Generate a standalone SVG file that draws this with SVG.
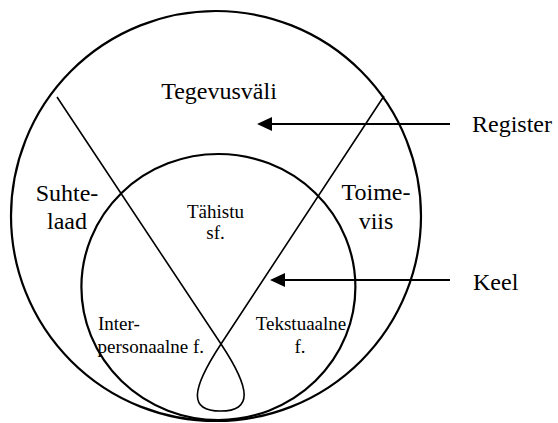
<svg xmlns="http://www.w3.org/2000/svg" width="558" height="423" viewBox="0 0 558 423">
<rect width="558" height="423" fill="#fff"/>
<g id="register-circle">
<circle cx="216" cy="216" r="205" fill="none" stroke="#000" stroke-width="2.2"/>
<text x="219" y="99" text-anchor="middle" font-family="Liberation Serif" font-size="24">Tegevusväli</text>
<text x="67" y="201" text-anchor="middle" font-family="Liberation Serif" font-size="24">Suhte-</text>
<text x="67" y="229" text-anchor="middle" font-family="Liberation Serif" font-size="24">laad</text>
<text x="376" y="200" text-anchor="middle" font-family="Liberation Serif" font-size="24">Toime-</text>
<text x="376" y="229" text-anchor="middle" font-family="Liberation Serif" font-size="24">viis</text>
</g>
<g id="keel-circle">
<ellipse cx="218.4" cy="287" rx="137" ry="133" fill="none" stroke="#000" stroke-width="2.2"/>
<text x="215.5" y="218" text-anchor="middle" font-family="Liberation Serif" font-size="19">Tähistu</text>
<text x="215.5" y="239" text-anchor="middle" font-family="Liberation Serif" font-size="19">sf.</text>
<text x="98" y="330" font-family="Liberation Serif" font-size="19">Inter-</text>
<text x="97.5" y="353" font-family="Liberation Serif" font-size="19">personaalne f.</text>
<text x="301" y="330" text-anchor="middle" font-family="Liberation Serif" font-size="19">Tekstuaalne</text>
<text x="300" y="353" text-anchor="middle" font-family="Liberation Serif" font-size="19">f.</text>
</g>
<g id="register-label">
<text x="472" y="132" font-family="Liberation Serif" font-size="24">Register</text>
</g>
<g id="keel-label">
<text x="473" y="290" font-family="Liberation Serif" font-size="24">Keel</text>
</g>
<g id="connectors" stroke="#000" fill="none">
<path stroke-width="1.6" d="M57,97 L221,344 C251.4,389.8 252.5,411 220.5,411 C188.5,411 190.8,389.9 221,344 L384,96"/>
<line stroke-width="2" x1="450" y1="124" x2="268" y2="124"/>
<polygon fill="#000" stroke="none" points="257,124 272,117 272,131"/>
<line stroke-width="2" x1="450" y1="280" x2="281" y2="280"/>
<polygon fill="#000" stroke="none" points="270,280 285,273 285,287"/>
</g>
</svg>
